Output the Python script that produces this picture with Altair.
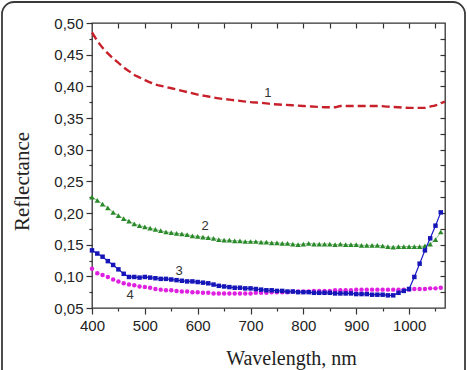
import altair as alt
import pandas as pd

# ---- data ----
wl10 = list(range(400, 1061, 10))

s2_green = [0.225, 0.220, 0.214, 0.208, 0.201, 0.196, 0.191, 0.187, 0.183, 0.180,
            0.178, 0.176, 0.174, 0.172, 0.170, 0.169, 0.168, 0.167, 0.166, 0.164,
            0.163, 0.162, 0.161, 0.160, 0.158, 0.157, 0.157, 0.156, 0.156, 0.155,
            0.155, 0.155, 0.154, 0.154, 0.153, 0.153, 0.152, 0.152, 0.151, 0.150,
            0.151, 0.152, 0.151, 0.151, 0.151, 0.151, 0.150, 0.151, 0.150, 0.150,
            0.150, 0.149, 0.149, 0.149, 0.149, 0.148, 0.147, 0.146, 0.147, 0.147,
            0.147, 0.147, 0.147, 0.148, 0.151, 0.158, 0.170]

s3_blue = [0.141, 0.136, 0.131, 0.124, 0.118, 0.111, 0.104, 0.099, 0.099, 0.098,
           0.099, 0.098, 0.097, 0.096, 0.096, 0.095, 0.094, 0.093, 0.092, 0.092,
           0.091, 0.090, 0.089, 0.087, 0.085, 0.084, 0.083, 0.082, 0.082, 0.081,
           0.081, 0.080, 0.079, 0.078, 0.078, 0.077, 0.077, 0.076, 0.076, 0.075,
           0.075, 0.075, 0.074, 0.074, 0.074, 0.074, 0.073, 0.073, 0.073, 0.073,
           0.072, 0.072, 0.072, 0.071, 0.071, 0.071, 0.070, 0.070, 0.074, 0.077,
           0.080, 0.099, 0.120, 0.141, 0.160, 0.180, 0.201]

s4_magenta = [0.112, 0.105, 0.102, 0.099, 0.095, 0.092, 0.089, 0.087, 0.086, 0.084,
              0.083, 0.082, 0.080, 0.079, 0.078, 0.078, 0.077, 0.076, 0.076, 0.075,
              0.075, 0.074, 0.074, 0.073, 0.073, 0.073, 0.073, 0.073, 0.073, 0.073,
              0.073, 0.074, 0.074, 0.074, 0.075, 0.075, 0.075, 0.075, 0.076, 0.076,
              0.076, 0.076, 0.077, 0.077, 0.077, 0.077, 0.078, 0.078, 0.078, 0.078,
              0.079, 0.079, 0.079, 0.079, 0.079, 0.079, 0.079, 0.079, 0.079, 0.079,
              0.079, 0.080, 0.080, 0.080, 0.081, 0.081, 0.082]

wl_red = [400, 410, 420, 430, 440, 450, 460, 470, 480, 490, 500, 520, 540, 560, 580,
          600, 620, 640, 660, 680, 700, 720, 740, 760, 780, 800, 820, 840, 860, 870,
          880, 900, 920, 940, 960, 980, 1000, 1020, 1030, 1040, 1050, 1060, 1068]
s1_red = [0.485, 0.472, 0.461, 0.452, 0.444, 0.437, 0.430, 0.424, 0.418, 0.414,
          0.410, 0.403, 0.399, 0.395, 0.391, 0.387, 0.384, 0.381, 0.379, 0.377,
          0.375, 0.374, 0.372, 0.371, 0.370, 0.369, 0.368, 0.367, 0.367, 0.369,
          0.369, 0.369, 0.369, 0.369, 0.368, 0.367, 0.366, 0.366, 0.366, 0.368,
          0.370, 0.373, 0.376]

label_text = ["1", "2", "3", "4"]
label_x = [733, 614, 565, 472]
label_y = [0.389, 0.179, 0.108, 0.070]

x_ticks = list(range(400, 1051, 50))
y_ticks = [round(0.05 + 0.025 * i, 3) for i in range(19)]

# ---- tables ----
df2 = pd.DataFrame({"wl": wl10, "r": s2_green})
df3 = pd.DataFrame({"wl": wl10, "r": s3_blue})
df4 = pd.DataFrame({"wl": wl10, "r": s4_magenta})
df1 = pd.DataFrame({"wl": wl_red, "r": s1_red})
dfl = pd.DataFrame({"t": label_text, "wl": label_x, "r": label_y})

xs = alt.Scale(domain=[400, 1068], nice=False, zero=False)
ys = alt.Scale(domain=[0.05, 0.5], nice=False, zero=False)

FONT = "Liberation Sans"
SERIF = "Liberation Serif"
TC = "#333333"

x_axis = alt.Axis(
    values=x_ticks, format="d",
    labelExpr="datum.value % 100 == 0 ? datum.label : ''",
    tickSize={"condition": {"test": "datum.value % 100 == 0", "value": 6}, "value": 3},
    tickColor=TC, tickWidth=1.2, domain=False, grid=False,
    labelFont=FONT, labelFontSize=15, labelColor="#222", labelPadding=4,
    title="Wavelength, nm", titleFont=SERIF, titleFontSize=20, titleFontWeight="normal",
    titleColor="#222", titleBaseline="alphabetic", titleX=199, titleY=56, titleAnchor="middle",
    labelFlush=False, labelOverlap=False,
)
y_axis = alt.Axis(
    values=y_ticks,
    labelExpr="round(datum.value*1000) % 50 == 0 ? replace(format(datum.value, '.2f'), '.', ',') : ''",
    tickSize={"condition": {"test": "round(datum.value*1000) % 50 == 0", "value": 6}, "value": 3},
    tickColor=TC, tickWidth=1.2, domain=False, grid=False,
    labelFont=FONT, labelFontSize=15, labelColor="#222", labelPadding=3,
    title="Reflectance", titleFont=SERIF, titleFontSize=21, titleFontWeight="normal",
    titleColor="#222", titleX=-60, titleY=158, titleAngle=270, titleBaseline="bottom",
    titleAlign="center", labelFlush=False, labelOverlap=False,
)
x_top = alt.Axis(orient="top", values=x_ticks[1:], labels=False, tickSize=5, offset=-5,
                 domain=False, grid=False, title=None, tickColor=TC, tickWidth=1.2)
y_right = alt.Axis(orient="right", values=y_ticks[1:-1], labels=False, tickSize=5, offset=-5,
                   domain=False, grid=False, title=None, tickColor=TC, tickWidth=1.2)

frame = alt.Chart(pd.DataFrame({"a": [0]})).mark_rect(
    fill=None, stroke="#3a3a3a", strokeWidth=1.8, cornerRadius=12
).encode(x=alt.value(-90), x2=alt.value(373), y=alt.value(-21), y2=alt.value(360))

green_line = alt.Chart(df2).mark_line(color="#2e8b2e", strokeWidth=0.8, opacity=0.7).encode(
    x=alt.X("wl:Q", scale=xs, axis=x_axis), y=alt.Y("r:Q", scale=ys, axis=y_axis))
green_pts = alt.Chart(df2).mark_point(
    shape="triangle-up", size=30, color="#2a8a2a", filled=True, opacity=1
).encode(x=alt.X("wl:Q", scale=xs, axis=None), y=alt.Y("r:Q", scale=ys, axis=None))

blue = alt.Chart(df3).mark_line(
    color="#1818c8", strokeWidth=1.2,
    point=alt.OverlayMarkDef(shape="square", size=20, color="#1515b8", filled=True)
).encode(x=alt.X("wl:Q", scale=xs, axis=None), y=alt.Y("r:Q", scale=ys, axis=None))

magenta = alt.Chart(df4).mark_point(
    shape="circle", size=20, color="#e020e0", filled=True, opacity=1
).encode(x=alt.X("wl:Q", scale=xs, axis=None), y=alt.Y("r:Q", scale=ys, axis=None))

red = alt.Chart(df1).mark_line(
    color="#c8202a", strokeWidth=2.4, strokeDash=[8, 4], interpolate="monotone"
).encode(x=alt.X("wl:Q", scale=xs, axis=x_top), y=alt.Y("r:Q", scale=ys, axis=y_right))

labels = alt.Chart(dfl).mark_text(
    font=FONT, fontSize=13, color="#333", align="center", baseline="middle"
).encode(x=alt.X("wl:Q", scale=xs, axis=None), y=alt.Y("r:Q", scale=ys, axis=None),
         text="t:N")

chart = alt.layer(frame, green_line, green_pts, magenta, blue, red, labels).resolve_axis(
    x="independent", y="independent"
).properties(
    width=353, height=285,
    autosize=alt.AutoSizeParams(type="none"),
    padding={"left": 92, "top": 23, "right": 22, "bottom": 62},
    background="white",
).configure_view(stroke="#333333", strokeWidth=1.3)

chart.save("out.html", embed_options={"renderer": "svg", "actions": False})
